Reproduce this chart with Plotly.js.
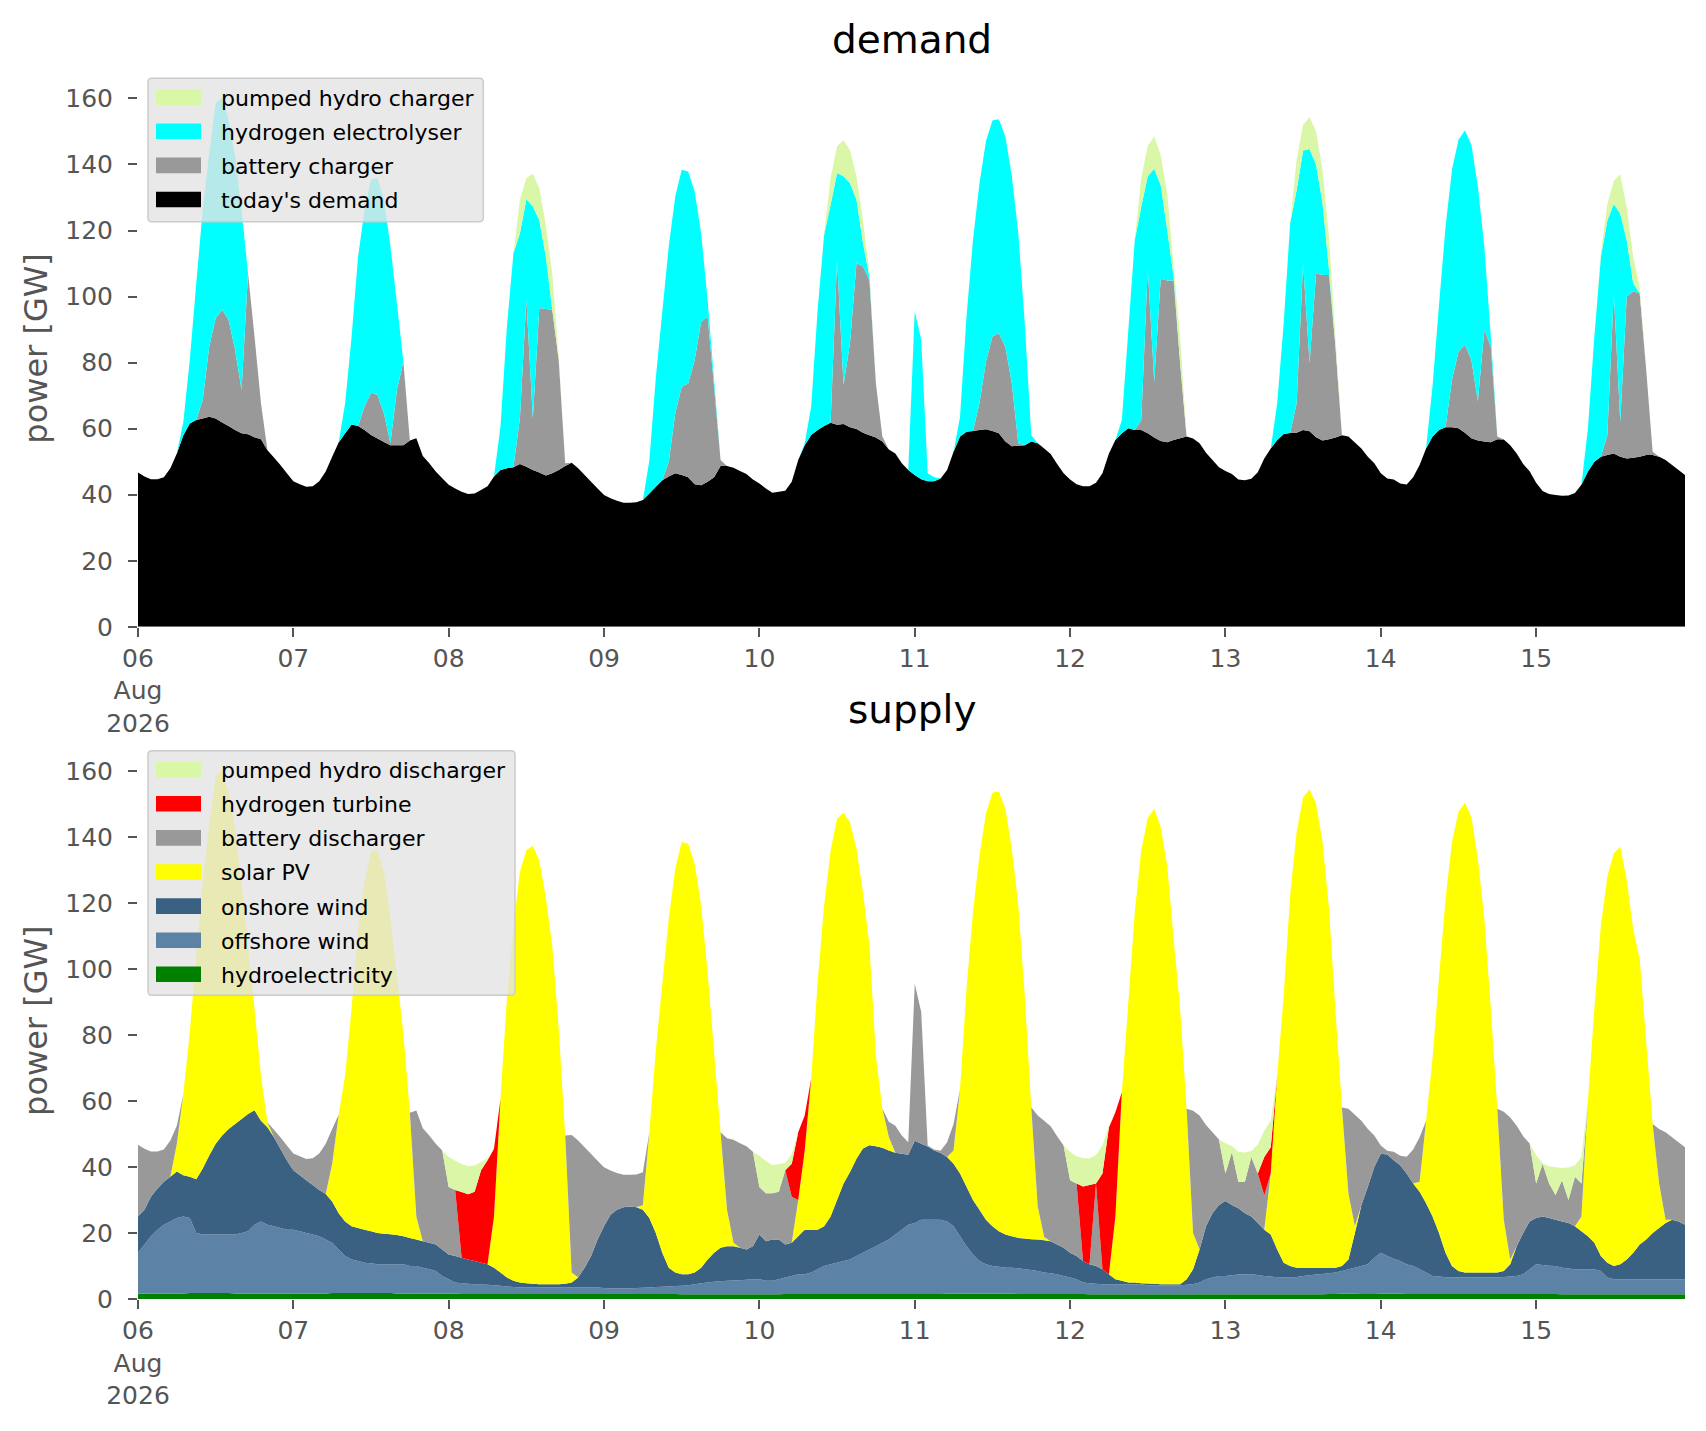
<!DOCTYPE html>
<html>
<head>
<meta charset="utf-8">
<script src="https://cdn.plot.ly/plotly-3.0.1.min.js"></script>
<style>
html,body{margin:0;padding:0;background:#ffffff;}
#chart{width:1706px;height:1431px;}
</style>
</head>
<body>
<div id="chart"></div>
<script>
// ---------- categories / tick labels ----------
const dayNumbers = [6,7,8,9,10,11,12,13,14,15];
const dayTickLabels = ['06<br>Aug<br>2026','07','08','09','10','11','12','13','14','15'];

// ---------- hourly series (one row = one day, 06..15 Aug 2026), GW ----------
const todaysDemand = [
46.7,45.5,44.7,44.7,45.3,48,52.5,58,61.6,62.6,63.1,63.6,63.1,61.9,60.8,59.6,58.6,58.3,57.4,56.8,53.5,51.3,49,46.5,
44.1,43.2,42.4,42.6,44.1,47,51.5,55.8,58.6,61.3,60.8,59.6,58.1,57,56,55,55,55,56.4,57.1,51.7,49.5,47,45,
43,41.9,40.9,40.2,40.4,41.4,42.6,45.5,47.5,48,48.3,49.3,48.5,47.5,46.7,45.8,46.5,47.5,48.7,49.7,48,46,43.9,41.9,
39.9,38.9,38.2,37.6,37.6,37.7,38.4,40.4,42.4,44.4,45.5,46.5,46,45.3,43.2,42.9,43.9,45.3,48.7,48.7,48.2,47.2,46.3,44.6,
43.4,41.9,40.6,40.9,41.2,43.9,50.5,55,58.1,59.6,60.8,61.8,61.2,61.4,60.4,59.9,58.8,58,57.3,56.1,53.7,52.5,49.5,47.5,
46,44.7,44.1,44.1,44.9,47.5,53,57.6,59.1,59.3,59.6,59.8,59.3,58.6,56.1,54.7,54.8,55,56.1,55.6,54,52.3,49.3,46.5,
44.6,43.2,42.6,42.6,43.6,46.5,52.5,56.6,58.6,60.1,59.6,59.6,58.6,57.3,56.3,55.9,56.6,57.1,57.6,57,55.6,52.7,50.5,48.3,
47.2,46.3,44.6,44.4,44.8,46.8,51,54,56.6,58.4,58.7,58.8,59.6,59.2,57.4,56.4,56.8,57.3,58,57.6,55.8,54,51.5,49.5,
46.5,44.9,44.6,43.4,43.1,45.3,49,54,57.6,59.6,60.4,60.4,60.1,58.8,57.1,56.4,56.1,55.9,56.8,56.7,55,52.5,49.3,47.1,
43.6,41.1,40.2,39.9,39.7,39.8,40.5,43,47,50,51.5,52,52.5,51.5,51,51.2,51.5,52,52,51.5,50.5,49,47.5,46
];
const batteryCharger = [
0,0,0,0,0,0,0,0,0,0,5.6,21.2,30.3,34.1,32.1,24.2,13.1,48.7,30.5,10.9,0,0,0,0,
0,0,0,0,0,0,0,0,0,0,0,7.1,12.8,13.2,8.6,0.6,16.7,25.3,0,0,0,0,0,0,
0,0,0,0,0,0,0,0,0,0,0,13.8,50.5,15.6,49.8,50.4,49.5,33.3,0.8,0,0,0,0,0,
0,0,0,0,0,0,0,0,0,0,4.5,18.1,26.7,28.4,37.6,49.5,50,27.4,1.8,0,0,0,0,0,
0,0,0,0,0,0,0,0,0,0,0,0,49.9,11.8,25.5,50.2,50.3,47,16.4,1.5,0,0,0,0,
0,0,0,0,0,0,0,0,0,0,8.1,20.5,28.6,30.3,28.7,19,0.8,0,0,0,0,0,0,0,
0,0,0,0,0,0,0,0,0,0,0,3,50,16.9,49.1,49,48.3,22.7,0,0,0,0,0,0,
0,0,0,0,0,0,0,0,0,0,0,8.9,50.5,20.6,49.6,50.1,49.7,27.5,0,0,0,0,0,0,
0,0,0,0,0,0,0,0,0,0,0,14.3,23.2,26.6,23.7,11.8,33.8,28.9,0.8,0,0,0,0,0,
0,0,0,0,0,0,0,0,0,0,0,6,48.5,10.5,49,50.3,49.5,26,1,0,0,0,0,0
];
const hydrogenElectrolyser = [
0,0,0,0,0,0,0,4,19.2,41.4,57.6,58.6,65.2,64.1,60.6,58.6,54.6,0,0,0,0,0,0,0,
0,0,0,0,0,0,0,0,9.1,26.6,51.3,59.6,64.5,65.7,64.7,59.6,26.3,0,0,0,0,0,0,0,
0,0,0,0,0,0,0,0,13.1,42.9,64.8,56.1,30.5,64.2,26.7,15.9,0,0,0,0,0,0,0,0,
0,0,0,0,0,0,0,10,33,51,65.2,65.7,65.7,64.2,51,26.8,5.1,2,0,0,0,0,0,0,
0,0,0,0,0,0,0,0.6,8.6,36.4,57.9,66,26.3,63.2,48.4,19.2,7.1,1,0,0,0,0,0,0,
49.5,42.2,2.4,1.2,0,0,0,6,34.8,57.9,66.6,66.7,65.4,64.8,63.7,62.7,63.6,36.9,2,0,0,0,0,0,
0,0,0,0,0,0,0,0,4,29.8,57.6,64.7,27.8,64.5,28.4,15.3,1.2,0,0,0,0,0,0,0,
0,0,0,0,0,0,0,0,11.1,33.5,63.5,64.6,34.1,64.9,32.9,21.8,1.6,0,0,0,0,0,0,0,
0,0,0,0,0,0,0,0,15.4,37.9,60.6,63.7,64.2,64.9,65.2,65.1,25.3,3.1,0,0,0,0,0,0,
0,0,0,0,0,0,0,0,13,38,60.5,65,27,63,17,2.5,0,0,0,0,0,0,0,0
];
const pumpedHydroCharger = [
0,0,0,0,0,0,0,0,0,0,0,0,0,0,0,0,0,0,0,0,0,0,0,0,
0,0,0,0,0,0,0,0,0,0,0,0,0,0,0,0,0,0,0,0,0,0,0,0,
0,0,0,0,0,0,0,0,0,0,0,10.1,6.4,9.9,9.6,9.6,11.1,1,0,0,0,0,0,0,
0,0,0,0,0,0,0,0,0,0,0,0,0,0,0,0,0,0,0,0,0,0,0,0,
0,0,0,0,0,0,0,0,0,0,0.5,8,8.1,10.9,10.1,7.1,7,1.1,0,0,0,0,0,0,
0,0,0,0,0,0,0,0,0,0,0,0,0,0,0,0,0,0,0,0,0,0,0,0,
0,0,0,0,0,0,0,0,0,0,0,8.6,9.3,9.8,9.1,11.1,3,8.1,0,0,0,0,0,0,
0,0,0,0,0,0,0,0,0,0,0,9.1,7.8,9.6,10.1,10.1,10.1,2.7,0,0,0,0,0,0,
0,0,0,0,0,0,0,0,0,0,0,0,0,0,0,0,0,0,0,0,0,0,0,0,
0,0,0,0,0,0,0,0,0,0,1,5,7,12,10,8,2,0,0,0,0,0,0,0
];

const hydroelectricity = [
1.6,1.6,1.6,1.6,1.6,1.6,1.7,1.7,1.8,1.8,1.8,1.8,1.8,1.8,1.8,1.7,1.7,1.7,1.7,1.7,1.7,1.7,1.7,1.7,
1.7,1.7,1.7,1.7,1.7,1.7,1.8,1.8,1.8,1.8,1.8,1.8,1.8,1.8,1.8,1.8,1.7,1.7,1.7,1.7,1.6,1.6,1.6,1.6,
1.6,1.6,1.5,1.5,1.5,1.5,1.5,1.5,1.5,1.5,1.5,1.5,1.5,1.5,1.5,1.5,1.5,1.5,1.5,1.5,1.5,1.5,1.5,1.5,
1.5,1.5,1.5,1.5,1.5,1.5,1.5,1.5,1.5,1.5,1.5,1.5,1.4,1.4,1.4,1.4,1.4,1.4,1.4,1.4,1.4,1.4,1.4,1.4,
1.4,1.4,1.4,1.4,1.5,1.5,1.5,1.5,1.5,1.5,1.5,1.5,1.5,1.5,1.5,1.5,1.5,1.5,1.5,1.5,1.5,1.5,1.5,1.5,
1.5,1.5,1.5,1.5,1.5,1.6,1.6,1.6,1.6,1.6,1.6,1.6,1.6,1.6,1.6,1.6,1.5,1.5,1.5,1.5,1.5,1.5,1.5,1.5,
1.5,1.5,1.5,1.4,1.4,1.4,1.4,1.4,1.4,1.4,1.4,1.4,1.4,1.4,1.4,1.4,1.4,1.4,1.4,1.4,1.4,1.4,1.4,1.4,
1.4,1.4,1.4,1.4,1.4,1.4,1.4,1.4,1.4,1.4,1.4,1.4,1.4,1.4,1.4,1.4,1.5,1.5,1.6,1.6,1.6,1.5,1.5,1.5,
1.6,1.6,1.6,1.6,1.5,1.5,1.5,1.5,1.5,1.5,1.5,1.5,1.5,1.5,1.5,1.5,1.5,1.5,1.5,1.5,1.5,1.5,1.5,1.5,
1.5,1.5,1.5,1.5,1.4,1.4,1.4,1.4,1.4,1.4,1.4,1.4,1.4,1.4,1.4,1.4,1.4,1.4,1.4,1.4,1.4,1.4,1.4,1.4
];
const offshoreWind = [
12.4,14.9,17.4,19.4,20.9,21.9,22.8,23.3,22.7,18.2,17.7,17.7,17.7,17.7,17.7,17.8,18.3,18.8,20.8,21.8,20.8,20.3,19.8,19.3,
19.3,18.8,18.3,17.8,17.3,16.3,15.2,13.2,11.2,10.2,9.7,9.2,9,8.7,8.7,8.7,8.8,8.8,8.3,8.3,7.9,7.4,6.9,5.4,
4.4,3.4,3.3,3.1,3,2.9,2.8,2.7,2.5,2.3,2.1,2,2,2,2,2,2,2,2,2,2,2,2,2,
1.8,1.7,1.7,1.7,1.7,1.8,1.9,2,2.1,2.2,2.3,2.4,2.6,2.8,3.1,3.4,3.6,3.8,4,4.1,4.2,4.3,4.4,4.6,
4.6,4.1,4.1,4.6,5,5.5,6,6,6.5,7.5,8.5,9,9.5,10,10.5,11.5,12.5,13.5,14.5,15.5,16.5,18,19.5,21,
21.5,22.5,22.5,22.5,22.5,21.9,20.4,17.4,14.4,11.9,9.9,8.9,8.4,8.2,7.9,7.9,7.8,7.5,7.3,7,6.5,6.3,6,5.5,
5,4.5,3.5,3.4,3.2,3.1,3.1,3.1,3.1,3.1,3.1,3.1,2.8,2.8,2.8,2.8,2.8,2.8,2.9,3.1,3.6,4.6,5.1,5.6,
5.6,5.8,6,6.1,6.1,5.9,5.6,5.4,5.2,5.1,5.1,5.3,5.6,5.8,6,6.2,6.3,6.5,6.9,7.4,7.9,8.5,9,11,
12.4,11.4,10.6,9.9,9,8.5,7.5,6.5,5.5,5.3,5.1,5,5,5,5,5,5,5,5,5.2,5.3,5.5,6,7.5,
9,8.8,8.6,8.5,8.1,7.8,7.6,7.6,7.6,7.6,7.1,5.1,4.6,4.6,4.6,4.6,4.6,4.6,4.6,4.6,4.6,4.6,4.6,4.6
];
const onshoreWind = [
11,10.5,12,12.5,13,13.5,14.1,12.5,12.5,16.3,20,24,27.5,30,32,33.5,34.5,35.5,34.7,30.5,29.5,27,24,21,
18,17,16,15,14,13.8,12.5,11,10.5,10,10,10,9.7,9.5,9.3,9.1,8.9,8.5,8.5,8,8,8,8,8,
7.5,8,7.7,7.4,7,6.6,6.2,5.3,4,2.7,1.9,1.5,1.3,1.1,1,1,1,1,1.1,1.5,3,6,9.5,14.5,
18.7,22.3,23.8,24.6,24.8,24.5,23.6,21,16.4,10.3,5.7,4.1,3.5,3.3,3.5,4.7,7,8.8,10.1,10.5,10.4,9.8,9.2,10,
13.5,12,12.5,12,10,10,11.5,13.5,13,12,12,14.5,19,23.5,26.5,29.5,31.6,31.6,30.3,28.8,27,24.8,23,21.2,
24.9,23,22.2,21,20.2,19.5,19,19,18,16.5,15.5,13.5,12,10.7,10,9.5,9.2,9.3,9.3,9.5,9.8,9.7,9,8.5,
7.5,7,6.5,5.7,5.4,4.5,3,1.5,1,0.5,0.5,0.3,0.5,0.4,0.3,0.3,0.3,0.3,1.7,4.5,10,16,19.5,21.5,
22.7,21.3,20.1,18.5,17.5,15.7,14,12.7,8.4,4.5,3.5,2.8,2.5,2.3,2.1,1.9,1.7,1.5,1.5,3,10.5,18.4,23.5,27.5,
30,30.8,29.8,29,27.5,25,23.5,21,18,13.2,7.4,3.5,2,1.5,1.5,1.5,1.5,1.5,1.5,1.8,3.7,9,12.5,14.5,
14,14.7,14.4,14,14,13.8,13,11.5,10,8,4.5,4.5,4,4.5,6,8,10.5,12,14,15.5,17,18,17.5,16.5
];
const solarPV = [
0,0,0,0,0,0,8.4,24.5,43.8,67.7,86.8,99.9,111.6,110.6,102,89.4,71.8,51,30.7,13.7,1.5,0,0,0,
0,0,0,0,0,0,11.5,29.8,44.2,65.9,90.6,105.3,114.9,115.9,109.5,95.6,78.6,61.3,37.9,7,0,0,0,0,
0,0,0,0,0,0,0,15.5,52.6,84.4,107.6,124.3,131.1,132.6,128.3,117.2,102.6,77.3,44.9,3,0,0,0,0,
0,0,0,0,0,0,1.4,25.9,55.4,81.4,105.7,122.3,130.9,130.4,123.8,109.7,87,60.7,35,11,1,0,0,0,
0,0,0,0,0,0,11,24,45.7,75,97.2,110.8,115.5,112.3,105.9,93.9,77.6,60.5,27.4,11.8,4.1,0,0,0,
0,0,0,0,0,0,4,25.6,59.9,87.2,107.3,123,131.3,133.2,129,117.4,100.7,73.6,40,10,1,0,0,0,
0,0,0,0,0,0,0,19,57.1,84.9,112.2,131.1,141,143.9,138.4,126.8,104.6,83.4,51.6,11,0,0,0,0,
0,0,0,0,0,0,0,18.5,52.7,80.9,112.2,131.9,142.5,144.8,140.5,128.9,108.7,78,48,20,2,0,0,0,
0,0,0,0,0,0,3,25,48,77.5,107,128.4,139,142.3,138,125.3,107.2,79.9,49.6,15.5,1.5,0,0,0,
0,0,0,0,0,0,0,4.5,41,71,100,117,125,126.5,115,98,86.5,60,33,13.5,1,0,0,0
];
const batteryDischarger = [
21.7,18.5,13.7,11.2,9.8,11,5.5,0,0,0,0,0,0,0,0,0,0,0,0,0,0,2.3,3.5,4.5,
5.1,5.7,6.4,8.1,11.1,15.2,10.5,0,0,0,0,0,0,0,0,0,0,0,0,32.1,34.2,32.5,30.5,30,
20.4,20,0,0,0,0,0,0,0,0,0,0,0,0,0,0,0,0,0,41.7,41.5,36.5,30.9,23.9,
17.9,13.4,11.2,9.8,9.6,9.9,10,0,0,0,0,0,0,0,0,0,0,0,0,21.7,31.2,31.7,31.3,28.6,
14.4,14.5,14,14.5,22.5,14,0,0,0,0,0,0,0,0,0,0,0,0,0,0,4.6,8.2,5.5,3.8,
47.6,39.9,0.3,0.3,0.7,4.5,8,0,0,0,0,0,0,0,0,0,0,0,0,27.6,35.2,34.8,32.8,31,
22,22,0,0,25,0,0,0,0,0,0,0,0,0,0,0,0,0,0,37,40.6,30.7,24.5,19.8,
8.3,16,8,9.5,18,15,10.4,0,0,0,0,0,0,0,0,0,0,0,0,25.6,33.8,25.6,17.5,9.5,
2.5,1.1,2.6,2.9,5.1,10.3,13.5,0,0,0,0,0,0,0,0,0,0,0,0,32.7,43,36.5,29.3,23.6,
10.5,16,10.5,7.5,12.5,7,15,10,0,0,0,0,0,0,0,0,0,0,0,16.5,26.5,25,24,23.5
];
const hydrogenTurbine = [
0,0,0,0,0,0,0,0,0,0,0,0,0,0,0,0,0,0,0,0,0,0,0,0,
0,0,0,0,0,0,0,0,0,0,0,0,0,0,0,0,0,0,0,0,0,0,0,0,
0,0,19.9,19.7,21,28,31.5,20.5,0,0,0,0,0,0,0,0,0,0,0,0,0,0,0,0,
0,0,0,0,0,0,0,0,0,0,0,0,0,0,0,0,0,0,0,0,0,0,0,0,
0,0,0,0,0,10,20.5,10.6,0,0,0,0,0,0,0,0,0,0,0,0,0,0,0,0,
0,0,0,0,0,0,0,0,0,0,0,0,0,0,0,0,0,0,0,0,0,0,0,0,
0,0,22.6,24,0,29,44.5,31.6,0,0,0,0,0,0,0,0,0,0,0,0,0,0,0,0,
0,0,0,0,0,0,11.6,8,0,0,0,0,0,0,0,0,0,0,0,0,0,0,0,0,
0,0,0,0,0,0,0,0,0,0,0,0,0,0,0,0,0,0,0,0,0,0,0,0,
0,0,0,0,0,0,0,0,0,0,0,0,0,0,0,0,0,0,0,0,0,0,0,0
];
const pumpedHydroDischarger = [
0,0,0,0,0,0,0,0,0,0,0,0,0,0,0,0,0,0,0,0,0,0,0,0,
0,0,0,0,0,0,0,0,0,0,0,0,0,0,0,0,0,0,0,0,0,0,0,0,
9.1,8.9,8.5,8.5,7.9,2.4,0.6,0,0,0,0,0,0,0,0,0,0,0,0,0,0,0,0,0,
0,0,0,0,0,0,0,0,0,0,0,0,0,0,0,0,0,0,0,0,0,0,0,0,
9.5,9.9,8.6,8.4,2.2,2.9,0,0,0,0,0,0,0,0,0,0,0,0,0,0,0,0,0,0,
0,0,0,0,0,0,0,0,0,0,0,0,0,0,0,0,0,0,0,0,0,0,0,0,
8.6,8.2,8.5,8.1,8.6,8.5,0.5,0,0,0,0,0,0,0,0,0,0,0,0,0,0,0,0,0,
9.2,1.8,9.1,8.9,1.8,8.8,8,8,0,0,0,0,0,0,0,0,0,0,0,0,0,0,0,0,
0,0,0,0,0,0,0,0,0,0,0,0,0,0,0,0,0,0,0,0,0,0,0,0,
8.6,0.1,5.2,8.4,3.7,9.8,3.5,8,0,0,0,0,0,0,0,0,0,0,0,0,0,0,0,0
];

// ---------- time axis (hourly) ----------
const pad = n => String(n).padStart(2, '0');
const times = [];
dayNumbers.forEach(d => { for (let hr = 0; hr < 24; hr++) times.push(`2026-08-${pad(d)} ${pad(hr)}:00`); });
const dayTicks = dayNumbers.map(d => `2026-08-${pad(d)}`);

// ---------- traces ----------
const C = {
  black: '#000000', grey: '#999999', cyan: '#00ffff', lgreen: '#daf7a8',
  red: '#ff0000', yellow: '#ffff00', onshore: '#3a6082', offshore: '#5c82a5', hydro: '#008000'
};
function area(name, y, color, group, xa, ya) {
  return {
    type: 'scatter', mode: 'none', x: times, y: y, name: name,
    stackgroup: group, fill: 'tonexty', fillcolor: color,
    xaxis: xa, yaxis: ya, showlegend: false, hoverinfo: 'skip'
  };
}
// bottom-to-top stacking order
const demandSeries = [
  ["today's demand", todaysDemand, C.black],
  ['battery charger', batteryCharger, C.grey],
  ['hydrogen electrolyser', hydrogenElectrolyser, C.cyan],
  ['pumped hydro charger', pumpedHydroCharger, C.lgreen]
];
const supplySeries = [
  ['hydroelectricity', hydroelectricity, C.hydro],
  ['offshore wind', offshoreWind, C.offshore],
  ['onshore wind', onshoreWind, C.onshore],
  ['solar PV', solarPV, C.yellow],
  ['battery discharger', batteryDischarger, C.grey],
  ['hydrogen turbine', hydrogenTurbine, C.red],
  ['pumped hydro discharger', pumpedHydroDischarger, C.lgreen]
];
const traces = [
  ...demandSeries.map(s => area(s[0], s[1], s[2], 'dem', 'x', 'y')),
  ...supplySeries.map(s => area(s[0], s[1], s[2], 'sup', 'x2', 'y2'))
];

// ---------- layout geometry (pixels of the 1706x1431 figure) ----------
const W = 1706, H = 1431;
const M = {l: 138, r: 21, t: 70, b: 132.3};
const plotW = W - M.l - M.r, plotH = H - M.t - M.b;
const px2x = px => (px - M.l) / plotW;
const py2y = py => (H - M.b - py) / plotH;

// legend boxes drawn as shapes + text (matplotlib-like patches)
const shapes = [], annotations = [];
function roundedRect(x0, y0, x1, y1, r) {
  const X = px2x, Y = py2y;
  return `M${X(x0 + r)},${Y(y0)} L${X(x1 - r)},${Y(y0)} Q${X(x1)},${Y(y0)} ${X(x1)},${Y(y0 + r)} ` +
         `L${X(x1)},${Y(y1 - r)} Q${X(x1)},${Y(y1)} ${X(x1 - r)},${Y(y1)} L${X(x0 + r)},${Y(y1)} ` +
         `Q${X(x0)},${Y(y1)} ${X(x0)},${Y(y1 - r)} L${X(x0)},${Y(y0 + r)} Q${X(x0)},${Y(y0)} ${X(x0 + r)},${Y(y0)} Z`;
}
function drawLegend(box, firstRowY, series) {
  shapes.push({type: 'path', xref: 'paper', yref: 'paper', layer: 'above',
    path: roundedRect(box[0], box[1], box[2], box[3], 4),
    fillcolor: 'rgba(228,228,228,0.8)', line: {color: '#cccccc', width: 1.5}});
  const items = series.slice().reverse();   // top of stack first
  items.forEach((s, i) => {
    const cy = firstRowY + i * 34.1;
    shapes.push({type: 'rect', xref: 'paper', yref: 'paper', layer: 'above',
      x0: px2x(156), x1: px2x(201), y0: py2y(cy + 7.8), y1: py2y(cy - 7.8),
      fillcolor: s[2], line: {width: 0}});
    annotations.push({text: s[0], xref: 'paper', yref: 'paper', x: px2x(219), y: py2y(cy + 1),
      xanchor: 'left', yanchor: 'middle', showarrow: false,
      font: {size: 22, color: '#000000', family: 'DejaVu Sans, sans-serif'}});
  });
}
drawLegend([148, 78.3, 483.3, 221.7], 97.2, demandSeries);
drawLegend([148, 750.7, 515, 995], 769.5, supplySeries);

annotations.push(
  {text: 'demand', xref: 'paper', yref: 'paper', x: 0.5, y: 1, xanchor: 'center', yanchor: 'bottom',
   yshift: 6, showarrow: false, font: {size: 39, color: '#000000'}},
  {text: 'supply', xref: 'paper', yref: 'paper', x: 0.5, y: 0.4529, xanchor: 'center', yanchor: 'bottom',
   yshift: 8, showarrow: false, font: {size: 39, color: '#000000'}}
);

const tickGrey = '#555555';
function xAxis(anchor) {
  return {
    anchor: anchor, type: 'date', range: [times[0], times[times.length - 1]],
    tickmode: 'array', tickvals: dayTicks, ticktext: dayTickLabels,
    ticks: 'outside', ticklen: 9, tickwidth: 2, tickcolor: tickGrey,
    tickfont: {size: 25, color: tickGrey},
    showgrid: false, zeroline: false, showline: false, fixedrange: true
  };
}
function yAxis(anchor, domain) {
  return {
    anchor: anchor, domain: domain, range: [0, 168.6],
    tickmode: 'array', tickvals: [0,20,40,60,80,100,120,140,160],
    ticks: 'outside', ticklen: 9, tickwidth: 2, tickcolor: tickGrey,
    tickfont: {size: 25, color: tickGrey}, ticklabelstandoff: 10,
    showgrid: false, zeroline: false, showline: false, fixedrange: true,
    title: {text: 'power [GW]', font: {size: 32, color: tickGrey}, standoff: 8}
  };
}
const layout = {
  width: W, height: H,
  margin: {l: M.l, r: M.r, t: M.t, b: M.b, pad: 0},
  paper_bgcolor: '#ffffff', plot_bgcolor: '#ffffff',
  font: {family: 'DejaVu Sans, sans-serif', color: tickGrey, size: 25},
  hovermode: false, showlegend: false,
  xaxis: xAxis('y'),
  yaxis: yAxis('x', [py2y(626.7), 1]),
  xaxis2: xAxis('y2'),
  yaxis2: yAxis('x2', [0, py2y(742.2)]),
  shapes: shapes,
  annotations: annotations
};
Plotly.newPlot('chart', traces, layout, {staticPlot: true, displayModeBar: false});
</script>
</body>
</html>
